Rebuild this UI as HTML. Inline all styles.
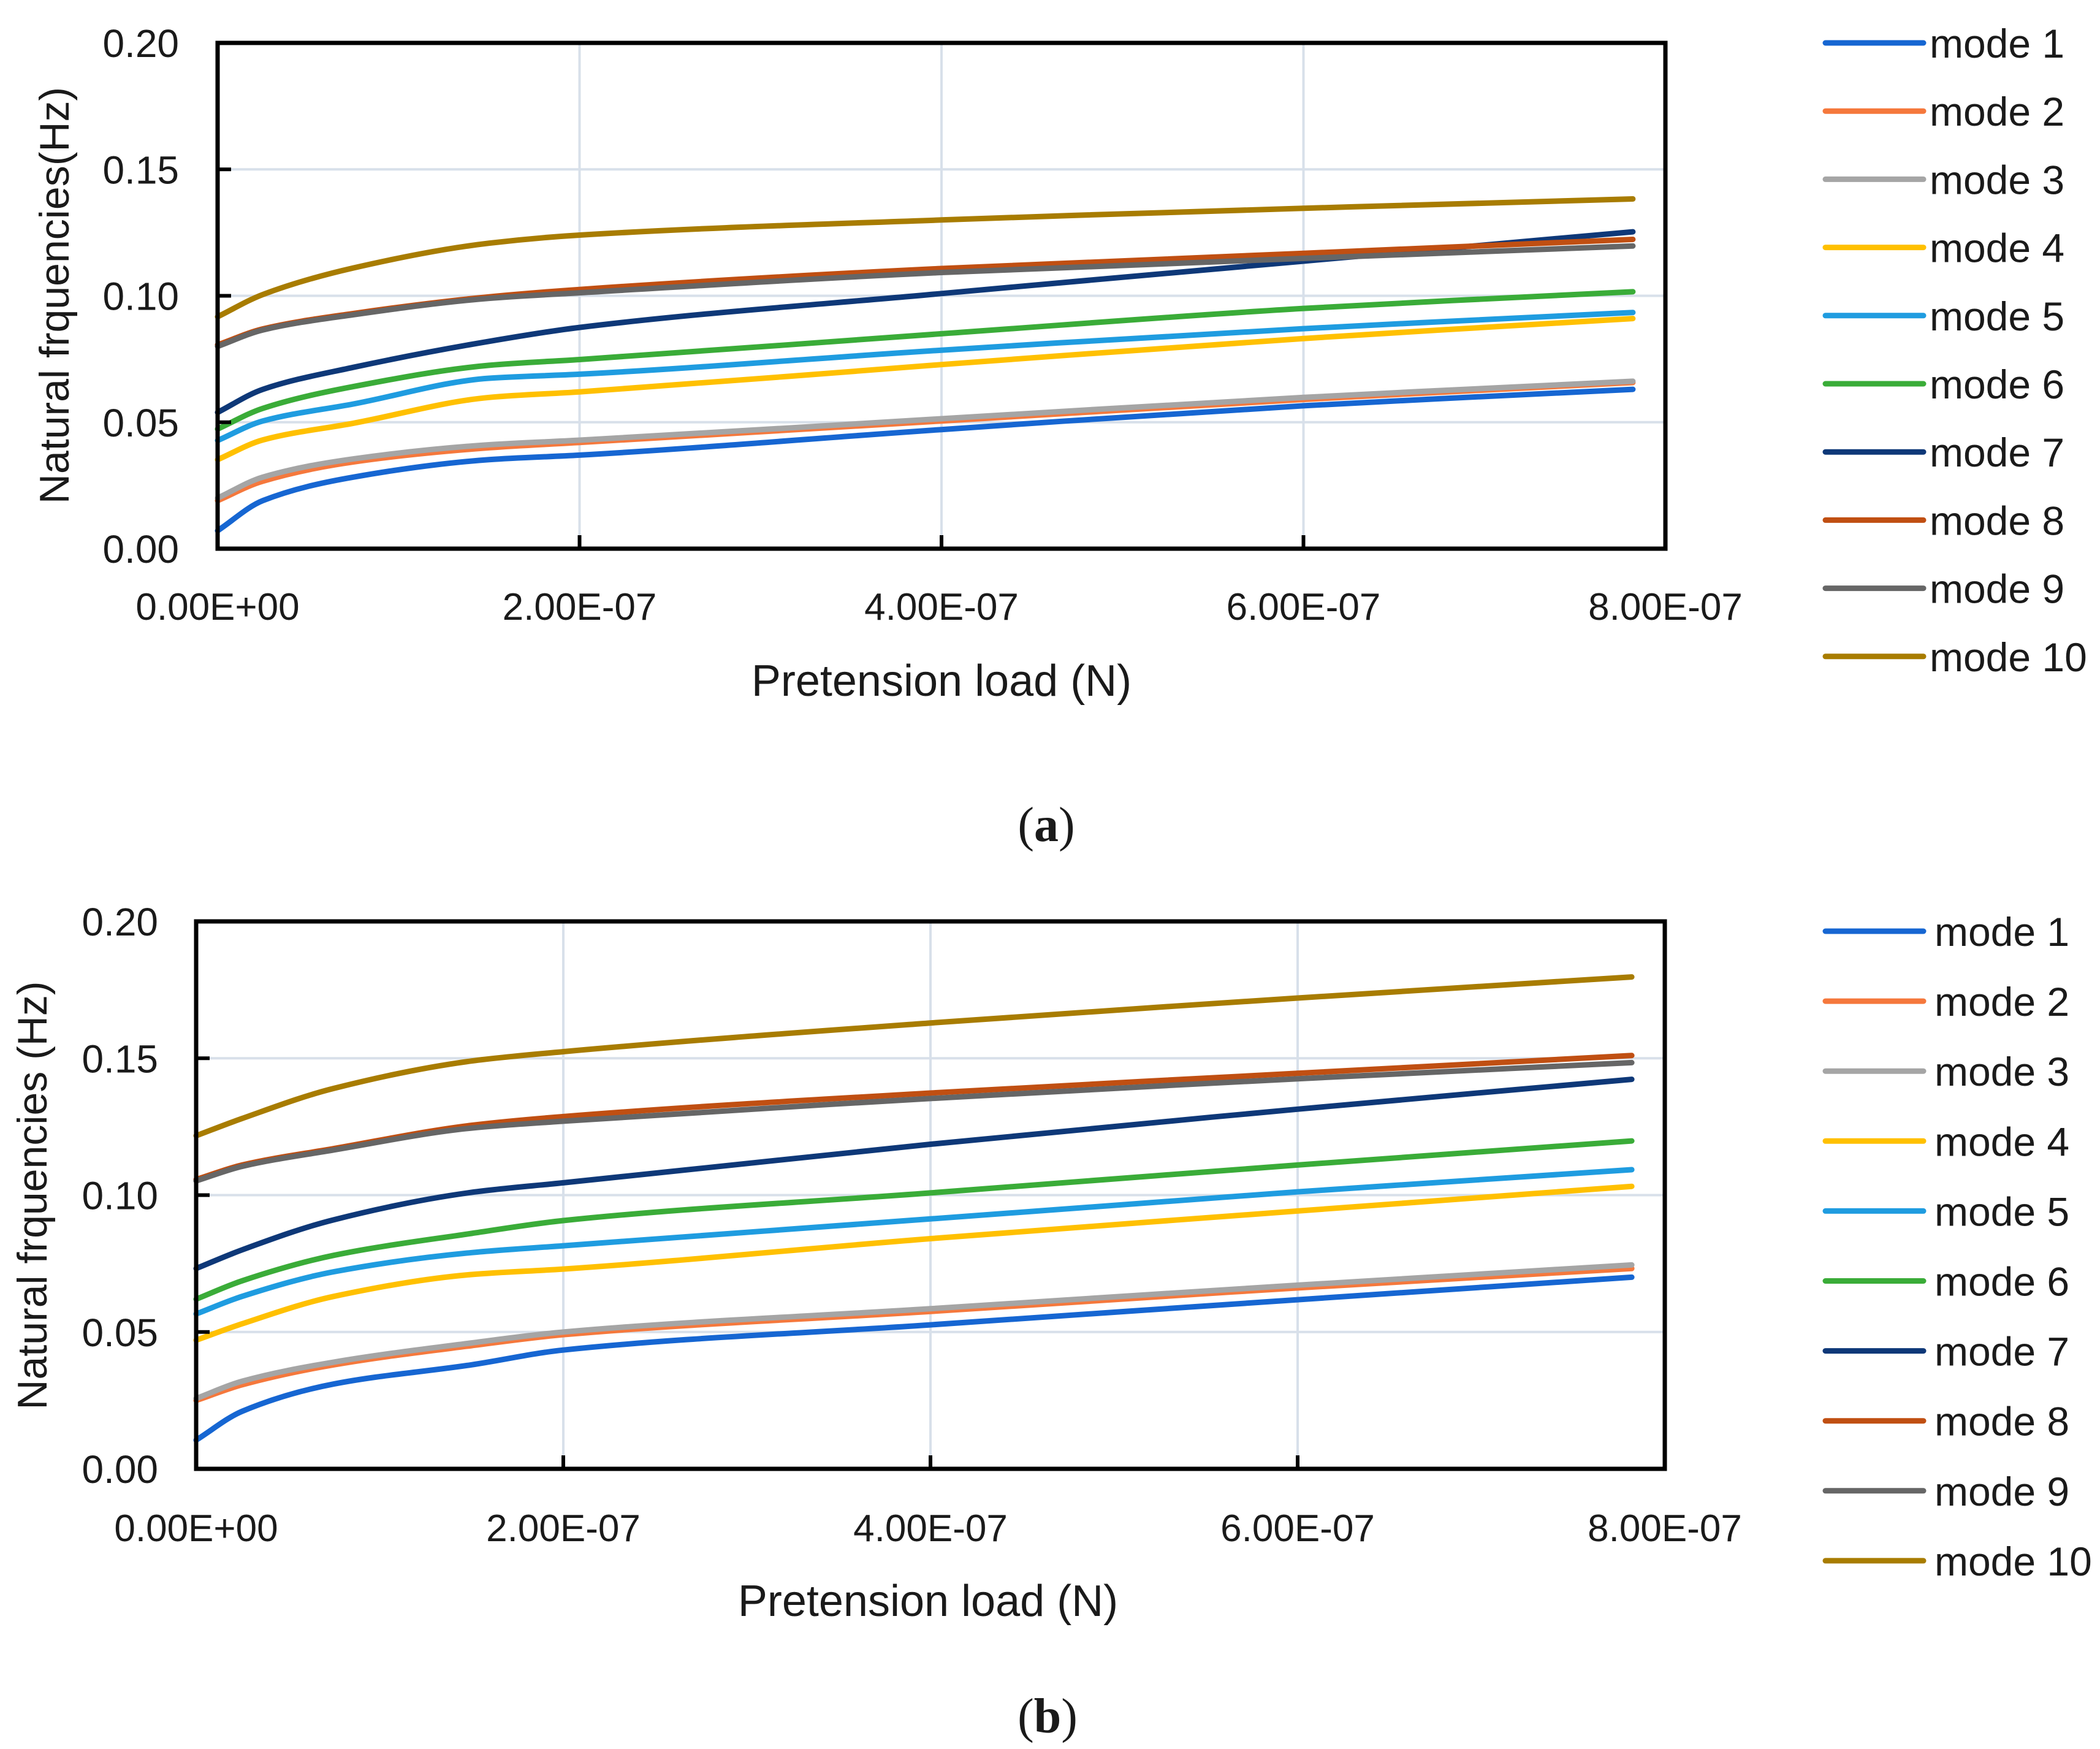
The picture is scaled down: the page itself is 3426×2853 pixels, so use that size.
<!DOCTYPE html>
<html><head><meta charset="utf-8"><style>
html,body{margin:0;padding:0;background:#fff;}
svg{display:block;}
text{font-family:"Liberation Sans",sans-serif;fill:#1a1a1a;}
</style></head><body>
<svg id="fig" width="3426" height="2853" viewBox="0 0 3426 2853" xmlns="http://www.w3.org/2000/svg">
<text x="1707" y="1372" text-anchor="middle" style="font-family:'Liberation Serif',serif;font-size:80px;">(<tspan font-weight="bold">a</tspan>)</text>
<text x="1709" y="2826" text-anchor="middle" style="font-family:'Liberation Serif',serif;font-size:80px;">(<tspan font-weight="bold">b</tspan>)</text>
</svg>
<script>
const xValues = [0, 0.25, 0.75, 1.5, 2, 4, 6, 7.82];
const modeNames = ["mode 1","mode 2","mode 3","mode 4","mode 5","mode 6","mode 7","mode 8","mode 9","mode 10"];
const modeColors = ["#1666d2","#f5783c","#a5a5a5","#ffc000","#1f9ce0","#3aac38","#0e3878","#c04f12","#666666","#a87c00"];
const yTicks = [0, 0.05, 0.10, 0.15, 0.20];
const yTickLabels = ["0.00","0.05","0.10","0.15","0.20"];
const xTicks = [0, 2, 4, 6, 8];
const xTickLabels = ["0.00E+00","2.00E-07","4.00E-07","6.00E-07","8.00E-07"];

const seriesA1 = [0.0071,0.0190,0.0283,0.0352,0.037,0.0471,0.0565,0.063];
const seriesA2 = [0.0190,0.0267,0.0343,0.0399,0.042,0.0505,0.059,0.0657];
const seriesA3 = [0.0200,0.0283,0.0355,0.0411,0.0429,0.0514,0.0598,0.0662];
const seriesA4 = [0.0352,0.0430,0.0496,0.0598,0.062,0.0728,0.0831,0.091];
const seriesA5 = [0.0428,0.0505,0.0572,0.0674,0.069,0.0785,0.087,0.0934];
const seriesA6 = [0.0473,0.0555,0.0641,0.0725,0.0748,0.085,0.095,0.1016];
const seriesA7 = [0.0539,0.0630,0.0717,0.0820,0.0875,0.1009,0.1137,0.1253];
const seriesA8 = [0.0806,0.0869,0.0930,0.0996,0.1025,0.1108,0.1168,0.1223];
const seriesA9 = [0.0800,0.0865,0.0925,0.0990,0.1012,0.1092,0.1148,0.1197];
const seriesA10 = [0.0917,0.1005,0.1110,0.1208,0.1240,0.1300,0.1346,0.1383];

const seriesB1 = [0.0105,0.021,0.031,0.038,0.0434,0.0526,0.0618,0.070];
const seriesB2 = [0.025,0.0307,0.038,0.045,0.049,0.0575,0.0661,0.0732];
const seriesB3 = [0.0257,0.032,0.039,0.046,0.050,0.0585,0.0671,0.0745];
const seriesB4 = [0.047,0.053,0.063,0.071,0.073,0.0841,0.0942,0.1032];
const seriesB5 = [0.0566,0.063,0.072,0.079,0.0815,0.0913,0.1012,0.1093];
const seriesB6 = [0.062,0.0687,0.078,0.086,0.0907,0.1008,0.111,0.1198];
const seriesB7 = [0.0732,0.080,0.091,0.101,0.1045,0.1186,0.1314,0.1423];
const seriesB8 = [0.1057,0.111,0.117,0.1255,0.1287,0.1373,0.1445,0.151];
const seriesB9 = [0.1052,0.1105,0.1165,0.1245,0.127,0.1353,0.1425,0.1484];
const seriesB10 = [0.1217,0.128,0.139,0.149,0.1524,0.1629,0.172,0.1797];

const chartA = [seriesA1,seriesA2,seriesA3,seriesA4,seriesA5,seriesA6,seriesA7,seriesA8,seriesA9,seriesA10];
const chartB = [seriesB1,seriesB2,seriesB3,seriesB4,seriesB5,seriesB6,seriesB7,seriesB8,seriesB9,seriesB10];

const NS = "http://www.w3.org/2000/svg";
const svg = document.getElementById("fig");
function mk(tag, attrs, parent){
  const e = document.createElementNS(NS, tag);
  for (const k in attrs) e.setAttribute(k, attrs[k]);
  (parent||svg).appendChild(e);
  return e;
}
// monotone cubic (Fritsch-Carlson) path
function smoothPath(pts){
  const n = pts.length;
  const dx = [], m = [], t = [];
  for (let i = 0; i < n-1; i++){ dx[i] = pts[i+1][0]-pts[i][0]; m[i] = (pts[i+1][1]-pts[i][1])/dx[i]; }
  t[0] = m[0]; t[n-1] = m[n-2];
  for (let i = 1; i < n-1; i++){
    if (m[i-1]*m[i] <= 0) t[i] = 0;
    else { const w1 = 2*dx[i]+dx[i-1], w2 = dx[i]+2*dx[i-1]; t[i] = (w1+w2)/(w1/m[i-1]+w2/m[i]); }
  }
  let d = "M" + pts[0][0].toFixed(1) + " " + pts[0][1].toFixed(1);
  for (let i = 0; i < n-1; i++){
    const h = dx[i]/3;
    d += " C" + (pts[i][0]+h).toFixed(1)+" "+(pts[i][1]+t[i]*h).toFixed(1)+" "+(pts[i+1][0]-h).toFixed(1)+" "+(pts[i+1][1]-t[i+1]*h).toFixed(1)+" "+pts[i+1][0].toFixed(1)+" "+pts[i+1][1].toFixed(1);
  }
  return d;
}

function drawChart(cfg){
  const g = mk("g", {});
  
  
  const sx = v => cfg.left + (v/8)*(cfg.right-cfg.left);
  const sy = v => cfg.bottom - (v/0.2)*(cfg.bottom-cfg.top);
  yTicks.forEach(t => {
    if (t<=0 || t>=0.2) return;
    const l = mk("line",{x1:cfg.left,x2:cfg.right,y1:sy(t),y2:sy(t),stroke:"#d8e0ea","stroke-width":4},g);
    
    
  });
  xTicks.forEach(t => {
    if (t<=0 || t>=8) return;
    const l = mk("line",{x1:sx(t),x2:sx(t),y1:cfg.top,y2:cfg.bottom,stroke:"#d8e0ea","stroke-width":4},g);
    
    
  });
  cfg.data.forEach((s, i) => {
    const pts = s.map((v, j) => [sx(xValues[j]), sy(v)]);
    const p = mk("path",{d:smoothPath(pts),fill:"none",stroke:modeColors[i],"stroke-width":9,"stroke-linejoin":"round","stroke-linecap":"round"},g);
    
    
  });
  const f = mk("rect",{x:cfg.left,y:cfg.top,width:cfg.right-cfg.left,height:cfg.bottom-cfg.top,fill:"none",stroke:"#000","stroke-width":7},g);
  
  
  yTicks.forEach((t, i) => {
    const tk = mk("line",{x1:cfg.left,x2:cfg.left+22,y1:sy(t),y2:sy(t),stroke:"#000","stroke-width":6},g);
    
    
    const tx = mk("text",{x:cfg.yLabelRight,y:sy(t)+23,"text-anchor":"end","font-size":64},g);
    tx.textContent = yTickLabels[i];
    
    
  });
  xTicks.forEach((t, i) => {
    const tk = mk("line",{x1:sx(t),x2:sx(t),y1:cfg.bottom,y2:cfg.bottom-22,stroke:"#000","stroke-width":6},g);
    
    
    const tx = mk("text",{x:sx(t),y:cfg.xLabelY,"text-anchor":"middle","font-size":62},g);
    tx.textContent = xTickLabels[i];
    
    
  });
  const xt = mk("text",{x:cfg.xTitleX,y:cfg.xTitleY,"text-anchor":"middle","font-size":72},g);
  xt.textContent = "Pretension load (N)";
  
  
  const yt = mk("text",{x:0,y:0,"text-anchor":"middle","font-size":68,transform:"translate("+cfg.yTitleX+","+cfg.yTitleY+") rotate(-90)"},g);
  yt.textContent = cfg.yTitle;
  
  
  modeNames.forEach((n, i) => {
    const y = cfg.legTop + i*cfg.legStep;
    const ln = mk("line",{x1:2978,x2:3138,y1:y,y2:y,stroke:modeColors[i],"stroke-width":9,"stroke-linecap":"round"},g);
    
    
    const tx = mk("text",{x:cfg.legTextX,y:y+24,"font-size":66},g);
    tx.textContent = n;
    
    
  });
}

drawChart({name:"chart-a",data:chartA,left:355,right:2717,top:70,bottom:895,yLabelRight:292,xLabelY:1011,
  xTitleX:1536,xTitleY:1135,yTitleX:112,yTitleY:482,yTitle:"Natural frquencies(Hz)",legTop:70,legStep:111.2,legTextX:3148});
drawChart({name:"chart-b",data:chartB,left:320,right:2716,top:1503,bottom:2396,yLabelRight:258,xLabelY:2514,
  xTitleX:1514,xTitleY:2636,yTitleX:76,yTitleY:1950,yTitle:"Natural frquencies (Hz)",legTop:1519,legStep:114.1,legTextX:3156});
</script>
</body></html>
